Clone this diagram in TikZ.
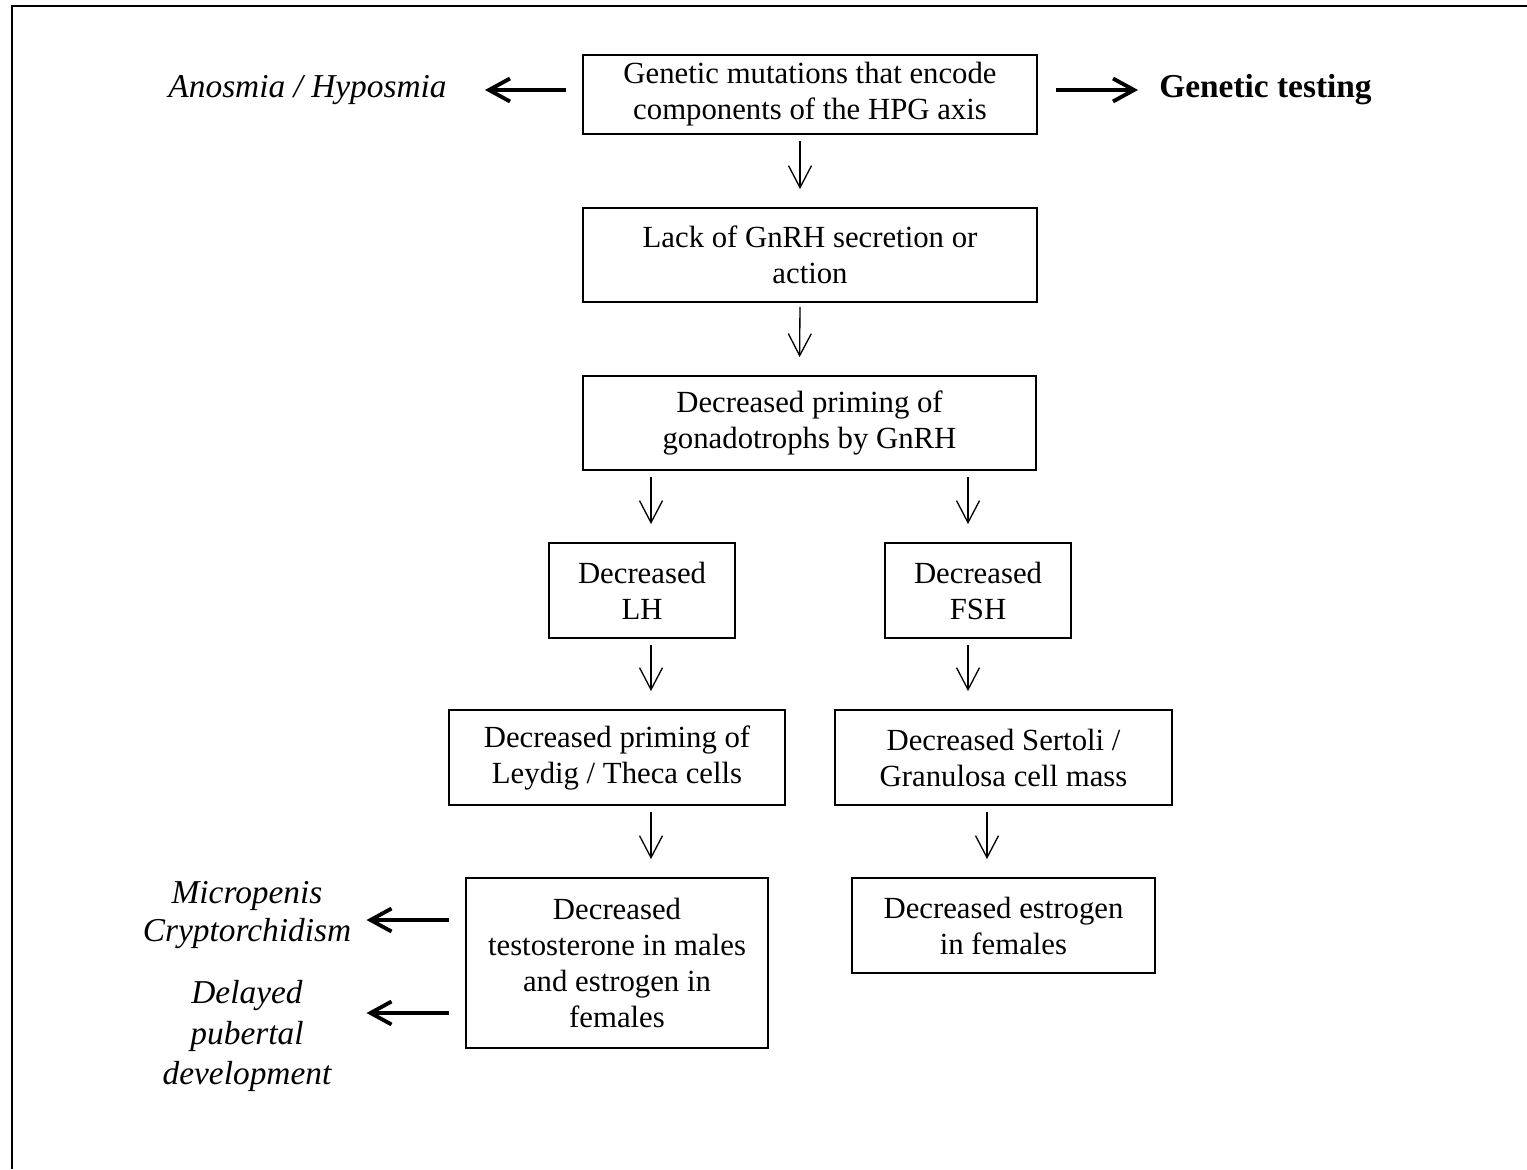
\documentclass[tikz,border=0pt]{standalone}
\usepackage{fontspec}
\setmainfont{Liberation Serif}
\usetikzlibrary{arrows.meta}

\tikzset{
  box/.style={draw, line width=1.1pt, align=center, inner sep=0pt,
    font=\fontsize{17.5}{20.5}\selectfont},
  note/.style={align=center, inner sep=0pt, font=\fontsize{19}{21.7}\selectfont\itshape},
  down/.style={-{Straight Barb[length=0.44cm,width=0.46cm]}, line width=0.75pt,
    shorten <=0.12cm, shorten >=0.36cm},
  side/.style={-{Straight Barb[length=0.42cm,width=0.46cm]}, line width=2.2pt}
}

\begin{document}
\begin{tikzpicture}[x=0.02cm, y=-0.02cm]
    \useasboundingbox (0,0) rectangle (1527,1169);
    \draw[line width=0.8pt] (12,1169) -- (12,6) -- (1527,6);

    % main column
    \node[box, minimum width=9.08cm, minimum height=1.58cm] (genes) at (810,94.5)
        {Genetic mutations that encode\\components of the HPG axis};
    \node[box, minimum width=9.08cm, minimum height=1.88cm] (gnrh) at (810,255)
        {Lack of GnRH secretion or\\action};
    \node[box, minimum width=9.06cm, minimum height=1.88cm] (priming) at (809.5,423)
        {Decreased priming of\\gonadotrophs by GnRH};

    % two branches
    \node[box, minimum width=3.72cm, minimum height=1.90cm] (lh) at (642,590.5)
        {Decreased\\LH};
    \node[box, minimum width=3.72cm, minimum height=1.90cm] (fsh) at (978,590.5)
        {Decreased\\FSH};
    \node[box, minimum width=6.72cm, minimum height=1.90cm] (leydig) at (617,757.5)
        {Decreased priming of\\Leydig / Theca cells};
    \node[box, minimum width=6.74cm, minimum height=1.90cm] (sertoli) at (1003.5,757.5)
        {Decreased Sertoli /\\Granulosa cell mass};
    \node[box, minimum width=6.04cm, minimum height=3.40cm] (testo) at (617,963)
        {Decreased\\testosterone in males\\and estrogen in\\females};
    \node[box, minimum width=6.06cm, minimum height=1.90cm] (estro) at (1003.5,925.5)
        {Decreased estrogen\\in females};

    % side notes
    \node[note, anchor=east] (smell) at (447,90) {Anosmia / Hyposmia};
    \node[note, anchor=west, font=\fontsize{19}{21.7}\selectfont\bfseries] (testing) at (1159,90)
        {Genetic testing};
    \node[note] (micro) at (247,915) {Micropenis\\Cryptorchidism};
    \node[note, font=\fontsize{19}{23.3}\selectfont\itshape] (delay) at (247,1036)
        {Delayed\\pubertal\\development};

    \draw[down] ([xshift=-0.2cm]genes.south) -- ([xshift=-0.2cm]gnrh.north);
    \draw[down, shorten <=0.08cm] ([xshift=-0.2cm]gnrh.south) -- ([xshift=-0.2cm]priming.north);
    \draw[down] ([xshift=0.18cm]priming.south -| lh.north) -- ([xshift=0.18cm]lh.north);
    \draw[down] ([xshift=-0.2cm]priming.south -| fsh.north) -- ([xshift=-0.2cm]fsh.north);
    \draw[down] ([xshift=0.18cm]lh.south) -- ([xshift=0.18cm]lh.south |- leydig.north);
    \draw[down] ([xshift=-0.2cm]fsh.south) -- ([xshift=-0.2cm]fsh.south |- sertoli.north);
    \draw[down] ([xshift=0.68cm]leydig.south) -- ([xshift=0.68cm]leydig.south |- testo.north);
    \draw[down] ([xshift=-0.33cm]sertoli.south) -- ([xshift=-0.33cm]sertoli.south |- estro.north);

    \draw[side, shorten <=0.32cm, shorten >=0.76cm] (genes.west |- smell) -- (smell.east);
    \draw[side, shorten <=0.36cm, shorten >=0.42cm] (genes.east |- testing) -- (testing.west);
    \draw[side, shorten <=0.32cm, shorten >=0.3cm]
        ([yshift=0.86cm]testo.west) -- ([yshift=0.86cm]testo.west -| micro.east);
    \draw[side, shorten <=0.32cm, shorten >=0.3cm]
        ([yshift=-1cm]testo.west) -- ([yshift=-1cm]testo.west -| micro.east);
\end{tikzpicture}
\end{document}
